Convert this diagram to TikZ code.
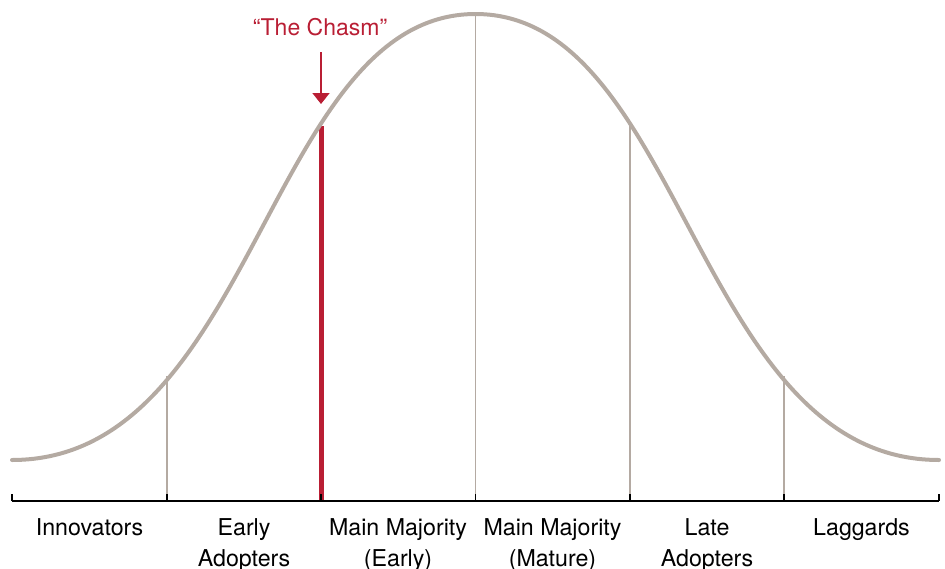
\documentclass[tikz,border=0pt]{standalone}
\usepackage{fontspec}
\setmainfont{TeX Gyre Heros}
\usetikzlibrary{arrows.meta}
\definecolor{curvegray}{RGB}{180,170,162}
\definecolor{chasmred}{RGB}{185,30,52}
\begin{document}
\begin{tikzpicture}[x=1pt,y=-1pt,
  lbl/.style={font=\fontsize{23.2}{30.5}\selectfont, align=center, anchor=north, inner sep=0pt},
  divider/.style={draw=curvegray, line width=1.6pt},
  bell/.style={draw=curvegray, line width=4pt, line cap=round},
  axisline/.style={draw=black, line width=2pt},
  tickmark/.style={draw=black, line width=1.6pt},
  chasmline/.style={draw=chasmred, line width=5pt},
  chasmarrow/.style={draw=chasmred, line width=1.8pt, -{Triangle[width=17pt,length=11pt]}},
]
\useasboundingbox (0,0) rectangle (945,568);

% axis points
\coordinate (a0) at (12,501);
\coordinate (a1) at (167,501);
\coordinate (a2) at (321,501);
\coordinate (a3) at (475.5,501);
\coordinate (a4) at (630,501);
\coordinate (a5) at (784,501);
\coordinate (a6) at (939,501);
% curve points above dividers
\coordinate (c1) at (167,376);
\coordinate (c2) at (321,126);
\coordinate (c3) at (475.5,16);
\coordinate (c4) at (630,126);
\coordinate (c5) at (784,376);
% curve ends and peak
\coordinate (left) at (12,460);
\coordinate (peak) at (475.5,14);
\coordinate (right) at (939,460);

% dividers
\draw[divider] (c1) -- (a1);
\draw[divider] (c3) -- (a3);
\draw[divider] (c4) -- (a4);
\draw[divider] (c5) -- (a5);
\draw[chasmline] (c2) -- (a2);

% bell curve
\draw[bell] (left) .. controls (255,460) and (268,14) .. (peak)
                   .. controls (683,14) and (696,460) .. (right);

% axis and ticks
\draw[axisline] (a0) -- (a6);
\foreach \i in {0,...,6} {
  \draw[tickmark] (a\i) -- ++(0,-7);
}

% chasm label and arrow
\node[font=\fontsize{23}{26}\selectfont, text=chasmred, anchor=base, inner sep=0pt] (chasm) at (320,35) {“The Chasm”};
\coordinate (arrtop) at (321,52);
\coordinate (arrtip) at (321,104);
\draw[chasmarrow] (arrtop) -- (arrtip);

% labels
\node[lbl] (innov) at (89.5,518.5) {Innovators};
\node[lbl] (early) at (244,518.5) {Early\\Adopters};
\node[lbl] (mmearly) at (398,518.5) {Main Majority\\(Early)};
\node[lbl] (mmmature) at (552.5,518.5) {Main Majority\\(Mature)};
\node[lbl] (late) at (707,518.5) {Late\\Adopters};
\node[lbl] (lagg) at (861.5,518.5) {Laggards};
\end{tikzpicture}
\end{document}
